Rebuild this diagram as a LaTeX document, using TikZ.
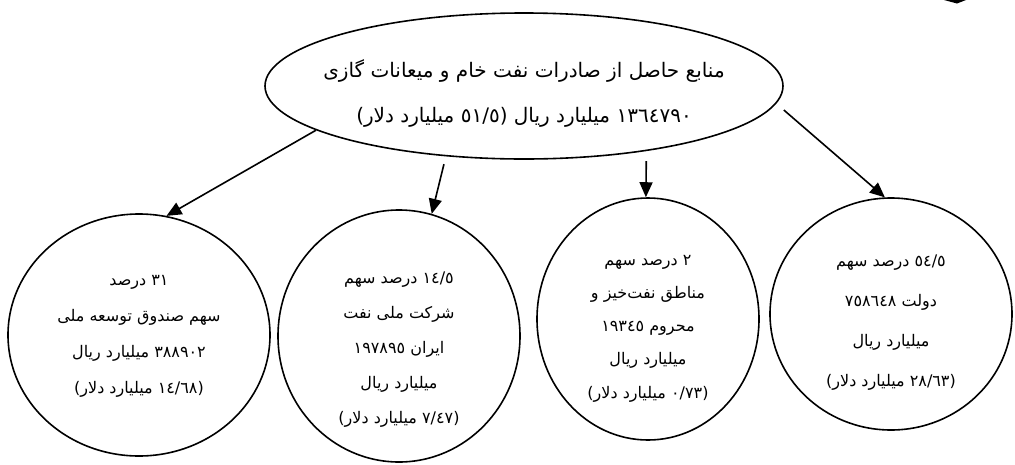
\documentclass[tikz,border=0pt]{standalone}
\usepackage{fontspec}
\usetikzlibrary{shapes.geometric,arrows.meta,calc}
\TeXXeTstate=1
\newfontfamily\arabicfont[Script=Arabic]{DejaVu Sans}
\newcommand{\rtlline}[1]{\beginR #1\endR}
\tikzset{
  shapebox/.style={draw, line width=1.6pt, ellipse, inner sep=0pt},
  txt/.style={align=center, inner sep=0pt, text=black},
  arr/.style={-{Triangle[length=15pt,width=13pt]}, line width=1.6pt}
}
\begin{document}
\begin{tikzpicture}[x=1pt,y=-1pt]
\useasboundingbox (0,0) rectangle (1015,464);
% shapes
\node[shapebox, minimum width=518pt, minimum height=146pt] (main) at (524,86) {};
\node[shapebox, minimum width=262pt, minimum height=242pt] (c1) at (139,335) {};
\node[shapebox, minimum width=242pt, minimum height=252pt] (c2) at (399,336) {};
\node[shapebox, minimum width=222pt, minimum height=242pt] (c3) at (648,319) {};
\node[shapebox, minimum width=242pt, minimum height=232pt] (c4) at (891,314) {};
% texts
\node[txt, font=\arabicfont\fontsize{20}{45}\selectfont] (t0) at (524,93) {%
\rtlline{منابع حاصل از صادرات نفت خام و میعانات گازی}\\
\rtlline{١٣٦٤٧٩٠ میلیارد ریال (٥١/٥ میلیارد دلار)}};
\node[txt, font=\arabicfont\fontsize{16}{36}\selectfont] (t1) at (139,336) {%
\rtlline{٣١ درصد}\\
\rtlline{سهم صندوق توسعه ملی}\\
\rtlline{٣٨٨٩٠٢ میلیارد ریال}\\
\rtlline{(١٤/٦٨ میلیارد دلار)}};
\node[txt, font=\arabicfont\fontsize{16}{35}\selectfont] (t2) at (399,350) {%
\rtlline{١٤/٥ درصد سهم}\\
\rtlline{شرکت ملی نفت}\\
\rtlline{ایران ١٩٧٨٩٥}\\
\rtlline{میلیارد ریال}\\
\rtlline{(٧/٤٧ میلیارد دلار)}};
\node[txt, font=\arabicfont\fontsize{16}{33.3}\selectfont] (t3) at (648,328.5) {%
\rtlline{٢ درصد سهم}\\
\rtlline{مناطق نفت‌خیز و}\\
\rtlline{محروم ١٩٣٤٥}\\
\rtlline{میلیارد ریال}\\
\rtlline{(٠/٧٣ میلیارد دلار)}};
\node[txt, font=\arabicfont\fontsize{16}{40}\selectfont] (t4) at (891,322.5) {%
\rtlline{٥٤/٥ درصد سهم}\\
\rtlline{دولت ٧٥٨٦٤٨}\\
\rtlline{میلیارد ریال}\\
\rtlline{(٢٨/٦٣ میلیارد دلار)}};
% connectors
\draw[arr] (main.192.3) -- (c1.77.3);
\draw[arr, shorten <=8pt] (main.222.9) -- (c2.75.3);
\draw[arr, shorten <=10pt] (main.-28.1) -- (c3.91.4);
\draw[arr] ($(main.east)+(0,24)$) -- (c4.93.5);
% fragment at top edge
\fill (944,0) -- (966,0) -- (957,3.5) -- cycle;
\end{tikzpicture}
\end{document}
